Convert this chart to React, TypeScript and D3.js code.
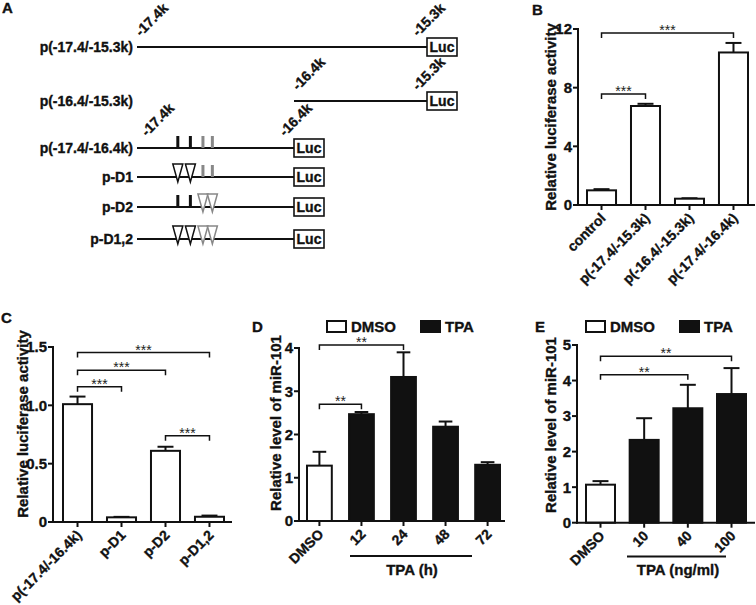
import React from 'react';
import * as d3 from 'd3';

const FONT = '"Liberation Sans", Arial, Helvetica, sans-serif';
const INK = '#111';
const HEAVY = { stroke: '#111', strokeWidth: 0.35, paintOrder: 'stroke' } as React.CSSProperties;

// ---------- Panel A data ----------
const aLabels = ['p(-17.4/-15.3k)', 'p(-16.4/-15.3k)', 'p(-17.4/-16.4k)', 'p-D1', 'p-D2', 'p-D1,2'];
const aStarts = [-17.4, -16.4, -17.4, -17.4, -17.4, -17.4];
const aEnds = [-15.3, -15.3, -16.4, -16.4, -16.4, -16.4];
const aShowCoords = [true, true, true, false, false, false];
const aSitePos = [-17.14, -17.06, -16.98, -16.92];
const aSiteColors = ['#111', '#111', '#888', '#888'];
const aSiteMarks = [
  [],
  [],
  ['bar', 'bar', 'bar', 'bar'],
  ['tri', 'tri', 'bar', 'bar'],
  ['bar', 'bar', 'tri', 'tri'],
  ['tri', 'tri', 'tri', 'tri'],
];
const aReporter = 'Luc';

// ---------- Panel B data ----------
const bLabels = ['control', 'p(-17.4/-15.3k)', 'p(-16.4/-15.3k)', 'p(-17.4/-16.4k)'];
const bValues = [1.0, 6.75, 0.43, 10.4];
const bErrors = [0.08, 0.15, 0.03, 0.65];
const bTicks = [0, 4, 8, 12];
const bBracketFrom = [0, 0];
const bBracketTo = [3, 1];
const bBracketLevel = [11.73, 7.57];
const bBracketText = ['***', '***'];

// ---------- Panel C data ----------
const cLabels = ['p(-17.4/-16.4k)', 'p-D1', 'p-D2', 'p-D1,2'];
const cValues = [1.01, 0.04, 0.61, 0.045];
const cErrors = [0.065, 0.004, 0.035, 0.01];
const cTicks = [0, 0.5, 1.0, 1.5];
const cTickLabels = ['0', '0.5', '1.0', '1.5'];
const cBracketFrom = [0, 0, 0, 2];
const cBracketTo = [3, 2, 1, 3];
const cBracketLevel = [1.452, 1.30, 1.16, 0.74];
const cBracketText = ['***', '***', '***', '***'];

// ---------- Panel D data ----------
const dLabels = ['DMSO', '12', '24', '48', '72'];
const dValues = [1.28, 2.47, 3.33, 2.18, 1.3];
const dErrors = [0.32, 0.05, 0.57, 0.12, 0.06];
const dGroups = ['DMSO', 'TPA', 'TPA', 'TPA', 'TPA'];
const dTicks = [0, 1, 2, 3, 4];
const dBracketFrom = [0, 0];
const dBracketTo = [2, 1];
const dBracketLevel = [4.07, 2.7];
const dBracketText = ['**', '**'];
const dAxisTitle = 'TPA (h)';

// ---------- Panel E data ----------
const eLabels = ['DMSO', '10', '40', '100'];
const eValues = [1.07, 2.33, 3.22, 3.62];
const eErrors = [0.1, 0.61, 0.66, 0.73];
const eGroups = ['DMSO', 'TPA', 'TPA', 'TPA'];
const eTicks = [0, 1, 2, 3, 4, 5];
const eBracketFrom = [0, 0];
const eBracketTo = [3, 2];
const eBracketLevel = [4.68, 4.16];
const eBracketText = ['**', '**'];
const eAxisTitle = 'TPA (ng/ml)';

const legendKeys = ['DMSO', 'TPA'];
const groupFill: Record<string, string> = { DMSO: '#fff', TPA: '#111' };

type BarProps = {
  labels: string[];
  values: number[];
  errors: number[];
  fills: string[];
  yMax: number;
  yTop: number;
  yBottom: number;
  ticks: number[];
  tickLabels?: string[];
  bandStart: number;
  bandEnd: number;
  padInner: number;
  axisX0: number;
  axisX1: number;
  yTitle: string;
  yTitleX: number;
  yTitleY: number;
  bFrom: number[];
  bTo: number[];
  bLevel: number[];
  bText: string[];
};

function BarPanel(p: BarProps) {
  const y = d3.scaleLinear().domain([0, p.yMax]).range([p.yBottom, p.yTop]);
  const x = d3.scaleBand<string>().domain(p.labels).range([p.bandStart, p.bandEnd]).paddingInner(p.padInner).paddingOuter(0);
  const bw = x.bandwidth();
  const cx = (i: number) => (x(p.labels[i]) as number) + bw / 2;
  const y0 = y(0);
  const cap = Math.min(16, bw * 0.55);
  return (
    <g>
      {p.labels.map((l, i) => {
        const v = p.values[i];
        const c = cx(i);
        const yt = y(v + p.errors[i]);
        return (
          <g key={l}>
            <line x1={c} x2={c} y1={y(v)} y2={yt} stroke={INK} strokeWidth={2} />
            <line x1={c - cap / 2} x2={c + cap / 2} y1={yt} y2={yt} stroke={INK} strokeWidth={2} />
            <rect x={x(l)} y={y(v)} width={bw} height={y0 - y(v)} fill={p.fills[i]} stroke={INK} strokeWidth={2} />
          </g>
        );
      })}
      <line x1={p.axisX0} x2={p.axisX0} y1={y(p.yMax) - 1} y2={y0 + 1} stroke={INK} strokeWidth={2} />
      <line x1={p.axisX0 - 1} x2={p.axisX1} y1={y0} y2={y0} stroke={INK} strokeWidth={2} />
      {p.ticks.map((t, i) => (
        <g key={'t' + i}>
          <line x1={p.axisX0 - 5} x2={p.axisX0} y1={y(t)} y2={y(t)} stroke={INK} strokeWidth={2} />
          <text x={p.axisX0 - 6} y={y(t)} dy="0.36em" textAnchor="end" fontSize={15} fontWeight="bold" fill={INK} style={HEAVY}>
            {p.tickLabels ? p.tickLabels[i] : String(t)}
          </text>
        </g>
      ))}
      {p.labels.map((l, i) => (
        <g key={'x' + i}>
          <line x1={cx(i)} x2={cx(i)} y1={y0} y2={y0 + 5} stroke={INK} strokeWidth={2} />
          <text transform={`translate(${cx(i) + 5},${y0 + 14}) rotate(-45)`} textAnchor="end" fontSize={14} fontWeight="bold" fill={INK} style={HEAVY}>
            {l}
          </text>
        </g>
      ))}
      <text transform={`translate(${p.yTitleX},${p.yTitleY}) rotate(-90)`} textAnchor="middle" fontSize={15} fontWeight="bold" fill={INK} style={HEAVY}>
        {p.yTitle}
      </text>
      {p.bFrom.map((f, i) => {
        const x1 = cx(f);
        const x2 = cx(p.bTo[i]);
        const yb = y(p.bLevel[i]);
        return (
          <g key={'b' + i}>
            <path d={`M${x1},${yb + 5}V${yb}H${x2}V${yb + 5}`} fill="none" stroke={INK} strokeWidth={1.5} />
            <text x={(x1 + x2) / 2} y={yb + 2} textAnchor="middle" fontSize={14} fill="#222">
              {p.bText[i]}
            </text>
          </g>
        );
      })}
    </g>
  );
}

function Legend({ x0, x1, y }: { x0: number; x1: number; y: number }) {
  const xs = [x0, x1];
  return (
    <g>
      {legendKeys.map((k, i) => (
        <g key={k}>
          <rect x={xs[i]} y={y} width={19} height={11} fill={groupFill[k]} stroke={INK} strokeWidth={2} />
          <text x={xs[i] + 24} y={y + 11} fontSize={15} fontWeight="bold" fill={INK} style={HEAVY}>
            {k}
          </text>
        </g>
      ))}
    </g>
  );
}

function PanelA() {
  const sx = d3.scaleLinear().domain([-17.4, -16.4, -15.3]).range([137, 294, 427]);
  const rowY = [47, 101, 148, 177, 207, 239];
  const boxW = 30;
  const boxH = 18;
  return (
    <g>
      {aLabels.map((lab, r) => {
        const yL = rowY[r];
        const xs = sx(aStarts[r]);
        const xe = sx(aEnds[r]);
        return (
          <g key={lab}>
            <text x={133} y={yL + 5} textAnchor="end" fontSize={14} fontWeight="bold" fill={INK} style={HEAVY}>
              {lab}
            </text>
            <line x1={xs} x2={xe} y1={yL} y2={yL} stroke={INK} strokeWidth={2} />
            <rect x={xe} y={yL - boxH / 2} width={boxW} height={boxH} fill="#fff" stroke={INK} strokeWidth={1.6} />
            <text x={xe + boxW / 2} y={yL + 5} textAnchor="middle" fontSize={14} fontWeight="bold" fill={INK} style={HEAVY}>
              {aReporter}
            </text>
            {aShowCoords[r] && (
              <>
                <text transform={`translate(${xs + (r === 2 ? 10 : 4)},${yL - (r === 2 ? 11 : 10)}) rotate(-45)`} fontSize={14} fontWeight="bold" fill={INK} style={HEAVY}>
                  {`${aStarts[r]}k`}
                </text>
                <text transform={`translate(${xe - 9},${yL - (r === 2 ? 11 : 10)}) rotate(-45)`} fontSize={14} fontWeight="bold" fill={INK} style={HEAVY}>
                  {`${aEnds[r]}k`}
                </text>
              </>
            )}
            {aSiteMarks[r].map((m, k) => {
              const px = sx(aSitePos[k]);
              const col = aSiteColors[k];
              return m === 'bar' ? (
                <rect key={k} x={px - 1.5} y={yL - 12} width={3} height={12} fill={col} />
              ) : (
                <path key={k} d={`M${px - 5},${yL - 13}H${px + 5}L${px},${yL + 5}Z`} fill="#fff" stroke={col} strokeWidth={1.5} strokeLinejoin="miter" />
              );
            })}
          </g>
        );
      })}
    </g>
  );
}

export default function App() {
  return (
    <svg
      width={756}
      height={605}
      viewBox="0 0 756 605"
      style={{ position: 'absolute', left: 0, top: 0, background: '#fff' }}
      fontFamily={FONT}
    >
      <rect width={756} height={605} fill="#fff" />
      <text x={2} y={13} fontSize={15} fontWeight="bold" fill={INK} style={HEAVY}>A</text>
      <text x={532} y={15} fontSize={15} fontWeight="bold" fill={INK} style={HEAVY}>B</text>
      <text x={1} y={323} fontSize={15} fontWeight="bold" fill={INK} style={HEAVY}>C</text>
      <text x={252} y={332} fontSize={15} fontWeight="bold" fill={INK} style={HEAVY}>D</text>
      <text x={535} y={332} fontSize={15} fontWeight="bold" fill={INK} style={HEAVY}>E</text>

      <PanelA />

      <BarPanel
        labels={bLabels}
        values={bValues}
        errors={bErrors}
        fills={bLabels.map(() => '#fff')}
        yMax={12}
        yTop={29}
        yBottom={205}
        ticks={bTicks}
        bandStart={587}
        bandEnd={748}
        padInner={0.34}
        axisX0={578}
        axisX1={755}
        yTitle="Relative luciferase activity"
        yTitleX={556}
        yTitleY={117}
        bFrom={bBracketFrom}
        bTo={bBracketTo}
        bLevel={bBracketLevel}
        bText={bBracketText}
      />

      <BarPanel
        labels={cLabels}
        values={cValues}
        errors={cErrors}
        fills={cLabels.map(() => '#fff')}
        yMax={1.5}
        yTop={347}
        yBottom={522}
        ticks={cTicks}
        tickLabels={cTickLabels}
        bandStart={63}
        bandEnd={224}
        padInner={0.34}
        axisX0={53}
        axisX1={232}
        yTitle="Relative luciferase activity"
        yTitleX={28}
        yTitleY={424}
        bFrom={cBracketFrom}
        bTo={cBracketTo}
        bLevel={cBracketLevel}
        bText={cBracketText}
      />

      <Legend x0={327} x1={421} y={321} />
      <BarPanel
        labels={dLabels}
        values={dValues}
        errors={dErrors}
        fills={dGroups.map((g) => groupFill[g])}
        yMax={4}
        yTop={348}
        yBottom={521}
        ticks={dTicks}
        bandStart={307}
        bandEnd={500}
        padInner={0.41}
        axisX0={299}
        axisX1={505}
        yTitle="Relative level of miR-101"
        yTitleX={281}
        yTitleY={423}
        bFrom={dBracketFrom}
        bTo={dBracketTo}
        bLevel={dBracketLevel}
        bText={dBracketText}
      />
      <line x1={350} x2={472} y1={556} y2={556} stroke={INK} strokeWidth={2} />
      <text x={412} y={575} textAnchor="middle" fontSize={15} fontWeight="bold" fill={INK} style={HEAVY}>{dAxisTitle}</text>

      <Legend x0={586} x1={680} y={321} />
      <BarPanel
        labels={eLabels}
        values={eValues}
        errors={eErrors}
        fills={eGroups.map((g) => groupFill[g])}
        yMax={5}
        yTop={345}
        yBottom={522.7}
        ticks={eTicks}
        bandStart={586}
        bandEnd={746}
        padInner={0.336}
        axisX0={577}
        axisX1={755}
        yTitle="Relative level of miR-101"
        yTitleX={556}
        yTitleY={425}
        bFrom={eBracketFrom}
        bTo={eBracketTo}
        bLevel={eBracketLevel}
        bText={eBracketText}
      />
      <line x1={627} x2={726} y1={556.5} y2={556.5} stroke={INK} strokeWidth={2} />
      <text x={678} y={575} textAnchor="middle" fontSize={15} fontWeight="bold" fill={INK} style={HEAVY}>{eAxisTitle}</text>
    </svg>
  );
}
